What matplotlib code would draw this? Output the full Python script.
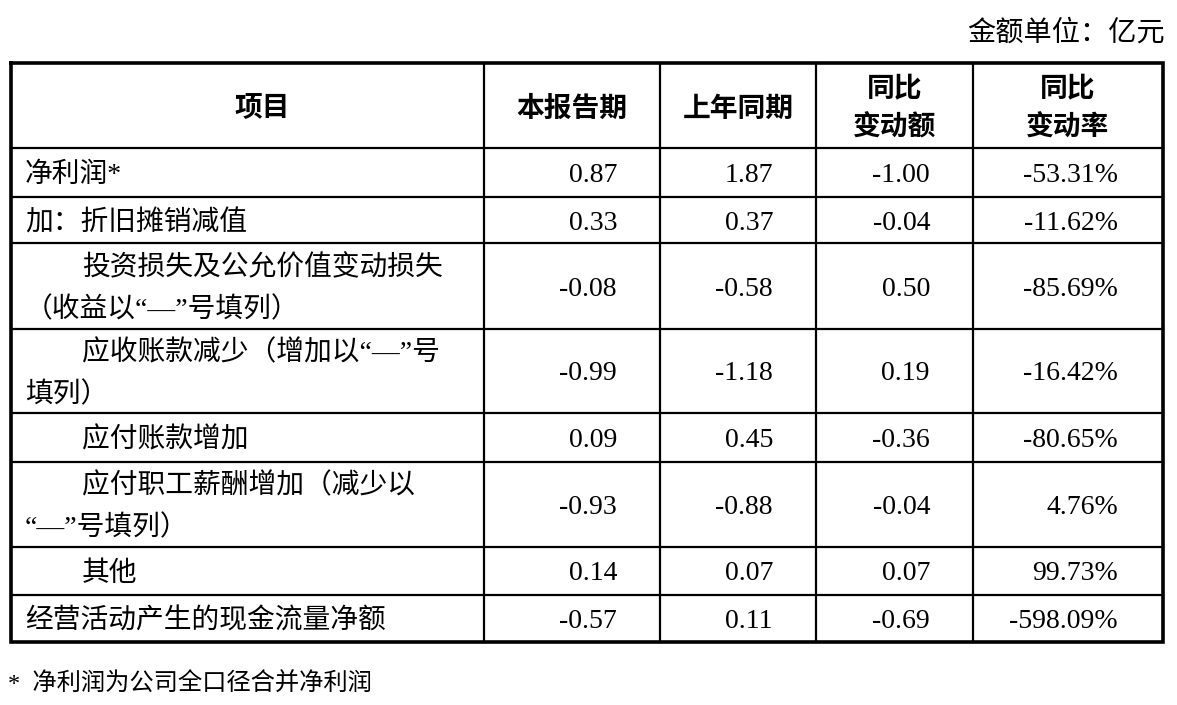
import matplotlib
matplotlib.use("Agg")
import matplotlib.pyplot as plt

# Table data (units: 亿元)
# -------------------------
headers = ['项目', '本报告期', '上年同期', '同比\n变动额', '同比\n变动率']
items = ['净利润*',
         '加：折旧摊销减值',
         '投资损失及公允价值变动损失\n（收益以“—”号填列）',
         '应收账款减少（增加以“—”号\n填列）',
         '应付账款增加',
         '应付职工薪酬增加（减少以\n“—”号填列）',
         '其他',
         '经营活动产生的现金流量净额']
indented = [False, False, True, True, True, True, True, False]
current = [0.87, 0.33, -0.08, -0.99, 0.09, -0.93, 0.14, -0.57]
prior = [1.87, 0.37, -0.58, -1.18, 0.45, -0.88, 0.07, 0.11]
change = [-1.00, -0.04, 0.50, 0.19, -0.36, -0.04, 0.07, -0.69]
rate = [-53.31, -11.62, -85.69, -16.42, -80.65, 4.76, 99.73, -598.09]
unit_note = '金额单位：亿元'
footnote = '*  净利润为公司全口径合并净利润'

# Layout (pixels)
# ---------------
col_x = [11, 484, 660, 816, 973, 1163]
row_y = [63, 148, 197, 243, 329, 413, 462, 547, 595, 642]
cjk = ['Noto Sans CJK SC', 'DejaVu Sans']
mixed = ['Liberation Serif', 'Noto Sans CJK SC']   # latin in serif, CJK falls back
serif = ['Liberation Serif', 'DejaVu Serif']
fs = 20
dy = 3   # nudge text down so it sits like the reference

fig = plt.figure(figsize=(11.77, 7.05), dpi=100)
ax = fig.add_axes([0, 0, 1, 1])
ax.set_xlim(0, 1177)
ax.set_ylim(705, 0)
ax.axis('off')

# grid lines
for y in row_y[1:-1]:
  ax.plot([col_x[0], col_x[-1]], [y, y], color='black', lw=1.6)
for x in col_x[1:-1]:
  ax.plot([x, x], [row_y[0], row_y[-1]], color='black', lw=1.6)
ax.plot([col_x[0], col_x[-1], col_x[-1], col_x[0], col_x[0]],
        [row_y[0], row_y[0], row_y[-1], row_y[-1], row_y[0]],
        color='black', lw=2.6, solid_joinstyle='miter')

# header
hy = (row_y[0] + row_y[1]) / 2 + dy
for i, h in enumerate(headers):
  cx = (col_x[i] + col_x[i+1]) / 2
  if i == 0:
    cx = 262
  ax.text(cx, hy, h, family=cjk, fontsize=fs, fontweight='bold',
          ha='center', va='center', linespacing=1.45)

# body rows
num_cols = [current, prior, change]
for r, label in enumerate(items):
  y0, y1 = row_y[r+1], row_y[r+2]
  cy = (y0 + y1) / 2 + dy
  lines = label.split('\n')
  if len(lines) == 1:
    ys = [cy]
  else:
    ys = [cy - 21, cy + 21]
  for k, (t, ty) in enumerate(zip(lines, ys)):
    tx = 82 if (indented[r] and k == 0) else 25
    ax.text(tx, ty, t, family=mixed, fontsize=fs, ha='left', va='center')
  for c, vals in enumerate(num_cols):
    ax.text(col_x[c+2] - 43, cy, f'{vals[r]:.2f}', family=serif,
            fontsize=fs, ha='right', va='center')
  ax.text(col_x[5] - 45, cy, f'{rate[r]:.2f}%', family=serif,
          fontsize=fs, ha='right', va='center')

ax.text(1165, 30 + dy, unit_note, family=mixed, fontsize=20.3, ha='right', va='center')
ax.text(8, 681 + dy, footnote, family=mixed, fontsize=17.5, ha='left', va='center')

plt.savefig('out.png', dpi=100)
